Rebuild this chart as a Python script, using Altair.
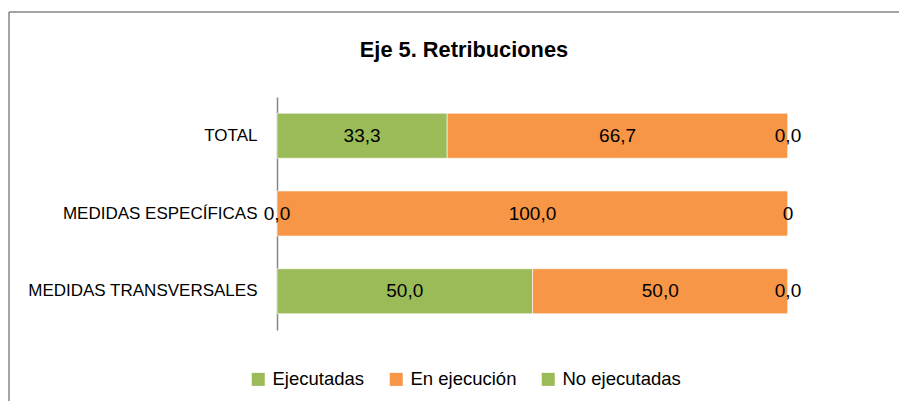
import altair as alt
import pandas as pd

categorias = ["TOTAL", "MEDIDAS ESPECÍFICAS", "MEDIDAS TRANSVERSALES"]
series = ["Ejecutadas", "En ejecución", "No ejecutadas"]
ejecutadas = [33.3, 0.0, 50.0]
en_ejecucion = [66.7, 100.0, 50.0]
no_ejecutadas = [0.0, 0.0, 0.0]
etiquetas_ejecutadas = ["33,3", "0,0", "50,0"]
etiquetas_en_ejecucion = ["66,7", "100,0", "50,0"]
etiquetas_no_ejecutadas = ["0,0", "0", "0,0"]
colores = ["#9BBB59", "#F79646", "#9BBB59"]
titulo = "Eje 5. Retribuciones"

FONT = "Liberation Sans"
W, H = 890, 389

rows = []
valores = [ejecutadas, en_ejecucion, no_ejecutadas]
etiquetas = [etiquetas_ejecutadas, etiquetas_en_ejecucion, etiquetas_no_ejecutadas]
for i, cat in enumerate(categorias):
    for j, s in enumerate(series):
        rows.append({"categoria": cat, "serie": s, "valor": valores[j][i],
                     "etiqueta": etiquetas[j][i], "orden": j})
df = pd.DataFrame(rows)

xscale = alt.Scale(domain=[0, 100], range=[268, 779], nice=False, zero=True)
yscale = alt.Scale(domain=categorias, range=[85, 318], paddingInner=0.421, paddingOuter=0.209)

y_enc = alt.Y("categoria:N", sort=categorias, scale=yscale,
              axis=alt.Axis(title=None, orient="left", offset=-268, ticks=False,
                            domainColor="#868686", domainWidth=1.5,
                            labelFont=FONT, labelFontSize=17, labelColor="#000000",
                            labelPadding=20, labelLimit=400))

bars = alt.Chart(df).mark_bar(stroke="#ffffff", strokeWidth=1, strokeOpacity=0.6).encode(
    x=alt.X("valor:Q", stack="zero", scale=xscale, axis=None),
    y=y_enc,
    color=alt.Color("serie:N", scale=alt.Scale(domain=series, range=colores),
                    legend=alt.Legend(title=None, orient="none", legendX=240, legendY=358,
                                      direction="horizontal", symbolType="square",
                                      symbolSize=169, symbolStrokeWidth=0,
                                      labelFont=FONT, labelFontSize=18.5, labelColor="#000000",
                                      labelOffset=5, columnPadding=22, padding=0)),
    order=alt.Order("orden:Q"),
)

texts = alt.Chart(df).transform_stack(
    stack="valor", as_=["x0", "x1"], groupby=["categoria"], sort=[alt.SortField("orden")]
).transform_calculate(
    mid="(datum.x0 + datum.x1) / 2"
).mark_text(font=FONT, fontSize=19, color="#000000", baseline="middle", align="center").encode(
    x=alt.X("mid:Q", scale=xscale, axis=None),
    y=alt.Y("categoria:N", sort=categorias, scale=yscale),
    text="etiqueta:N",
)

one = pd.DataFrame({"k": [0]})
left_border = alt.Chart(one).mark_rule(color="#868686", strokeWidth=1.5).encode(
    x=alt.value(0), y=alt.value(0), y2=alt.value(H))
top_border = alt.Chart(one).mark_rule(color="#868686", strokeWidth=1.5).encode(
    x=alt.value(0), x2=alt.value(W), y=alt.value(0))

chart = alt.layer(bars, texts, left_border, top_border).properties(
    width=W, height=H,
    padding={"left": 1, "top": 4, "right": 0, "bottom": 0},
    autosize=alt.AutoSizeParams(type="none"),
    title=alt.TitleParams(titulo, font=FONT, fontSize=21.8, fontWeight="bold", color="#000000",
                          anchor="middle", frame="group", offset=-45, baseline="alphabetic",
                          dx=10, dy=23),
    background="#ffffff",
).configure_view(stroke=None)

chart.save("out.html", embed_options={"renderer": "svg", "actions": False})
